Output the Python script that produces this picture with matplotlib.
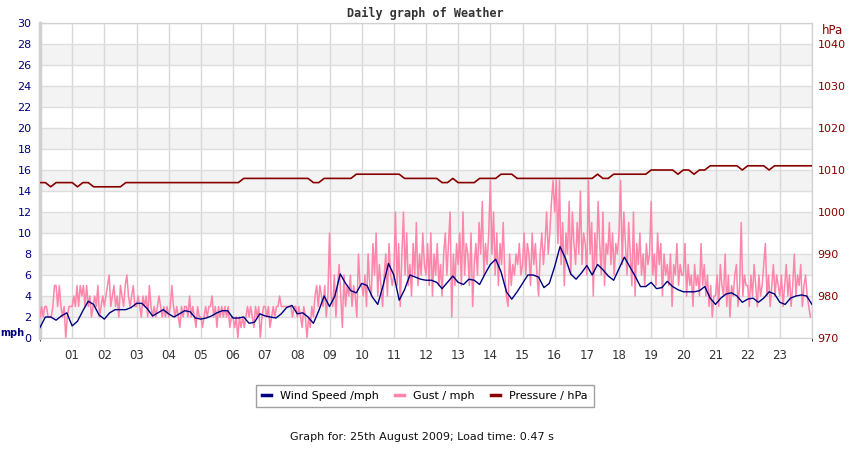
import numpy as np
import matplotlib
matplotlib.use("Agg")
import matplotlib.pyplot as plt
from matplotlib.lines import Line2D

# wind speed, mph, one value every 10 minutes (6 per hour) + end point
wind_speed = [
    1.0, 2.0, 2.0, 1.7, 2.1, 2.4,
    1.15, 1.6, 2.6, 3.5, 3.2, 2.2,
    1.8, 2.4, 2.7, 2.7, 2.7, 2.9,
    3.3, 3.3, 2.8, 2.1, 2.4, 2.7,
    2.3, 2.0, 2.3, 2.6, 2.5, 1.9,
    1.8, 1.9, 2.1, 2.4, 2.6, 2.6,
    1.9, 1.9, 2.0, 1.4, 1.5, 2.3,
    2.1, 2.0, 1.9, 2.3, 2.9, 3.1,
    2.3, 2.4, 2.0, 1.4, 2.6, 4.0,
    3.0, 4.0, 6.1, 5.2, 4.5, 4.3,
    5.2, 5.0, 3.9, 3.2, 5.0, 7.1,
    6.0, 3.6, 4.6, 6.0, 5.8, 5.6,
    5.5, 5.5, 5.3, 4.7, 5.3, 5.9,
    5.3, 5.1, 5.6, 5.5, 5.1, 6.1,
    7.0, 7.5, 6.3, 4.4, 3.7, 4.4,
    5.2, 6.0, 6.0, 5.8, 4.8, 5.2,
    6.8, 8.7, 7.6, 6.1, 5.6, 6.2,
    6.9, 6.0, 7.0, 6.5, 5.9, 5.5,
    6.6, 7.7, 6.8, 5.9, 4.9, 4.9,
    5.3, 4.7, 4.8, 5.4, 4.9, 4.6,
    4.4, 4.4, 4.4, 4.5, 4.9, 3.8,
    3.2, 3.8, 4.2, 4.3, 4.0, 3.4,
    3.7, 3.8, 3.4, 3.8, 4.4, 4.2,
    3.4, 3.2, 3.8, 4.0, 4.1, 4.0,
    3.2,
]

# gust, mph, one value every 3 minutes (20 per hour)
gust = [
    2, 3, 2, 3, 3, 2, 2, 2, 3, 5, 5, 3, 5, 3, 2, 3, 0, 2, 3, 3,
    3, 4, 3, 5, 3, 5, 4, 5, 3, 5, 3, 4, 2, 3, 4, 3, 5, 2, 3, 4,
    3, 4, 5, 6, 3, 4, 5, 3, 4, 2, 5, 4, 3, 5, 6, 4, 3, 4, 5, 3,
    3, 4, 3, 2, 4, 3, 4, 2, 5, 3, 2, 3, 2, 3, 4, 3, 2, 3, 2, 3,
    2, 3, 5, 3, 2, 3, 2, 1, 3, 2, 3, 3, 2, 4, 2, 3, 2, 1, 3, 2,
    2, 1, 2, 3, 2, 3, 3, 4, 2, 3, 1, 3, 2, 3, 2, 3, 2, 3, 1, 2,
    2, 1, 2, 0, 2, 1, 2, 1, 2, 3, 2, 3, 2, 1, 3, 2, 3, 0, 2, 3,
    3, 2, 3, 1, 2, 3, 2, 3, 3, 4, 3, 3, 3, 3, 3, 3, 3, 2, 3, 3,
    2, 3, 2, 1, 3, 2, 0, 2, 1, 3, 2, 4, 5, 3, 5, 4, 3, 5, 2, 4,
    10, 4, 3, 6, 2, 5, 7, 4, 1, 6, 3, 5, 4, 6, 3, 5, 4, 2, 8, 5,
    5, 4, 6, 3, 8, 5, 4, 9, 6, 10, 4, 7, 5, 3, 6, 8, 4, 9, 6, 5,
    6, 12, 5, 9, 3, 8, 12, 6, 10, 5, 7, 4, 9, 6, 11, 5, 8, 6, 10, 7,
    6, 9, 5, 10, 4, 8, 6, 9, 5, 7, 4, 8, 10, 6, 9, 12, 2, 8, 5, 9,
    7, 10, 5, 12, 6, 9, 8, 5, 10, 3, 7, 9, 6, 11, 8, 13, 6, 9, 7, 10,
    15, 8, 12, 6, 10, 5, 9, 7, 11, 6, 4, 3, 8, 5, 7, 6, 8, 7, 9, 6,
    7, 10, 6, 9, 8, 5, 10, 7, 9, 6, 4, 8, 10, 7, 9, 12, 8, 10, 13, 15,
    12, 15, 9, 15, 7, 11, 5, 10, 8, 13, 6, 12, 9, 7, 11, 8, 14, 7, 10, 9,
    6, 15, 8, 11, 4, 10, 7, 13, 9, 6, 12, 5, 9, 8, 11, 7, 10, 6, 9, 8,
    10, 15, 7, 12, 9, 6, 11, 8, 5, 12, 4, 9, 7, 10, 6, 8, 5, 9, 7, 8,
    13, 6, 8, 5, 10, 7, 9, 4, 8, 6, 7, 5, 8, 3, 7, 6, 9, 5, 7, 6,
    6, 9, 4, 7, 5, 6, 3, 7, 5, 6, 4, 9, 5, 7, 4, 6, 3, 5, 2, 4,
    4, 6, 3, 7, 5, 4, 8, 3, 6, 2, 5, 4, 6, 7, 3, 5, 11, 4, 6, 5,
    5, 3, 6, 4, 7, 5, 3, 6, 4, 5, 7, 9, 4, 6, 3, 5, 7, 4, 6, 5,
    4, 6, 3, 5, 7, 4, 6, 3, 5, 8, 4, 6, 5, 7, 3, 5, 6, 4, 3, 2,
]

# pressure, hPa, one value every 10 minutes + end point
pressure = [
    1007, 1007, 1006, 1007, 1007, 1007,
    1007, 1006, 1007, 1007, 1006, 1006,
    1006, 1006, 1006, 1006, 1007, 1007,
    1007, 1007, 1007, 1007, 1007, 1007,
    1007, 1007, 1007, 1007, 1007, 1007,
    1007, 1007, 1007, 1007, 1007, 1007,
    1007, 1007, 1008, 1008, 1008, 1008,
    1008, 1008, 1008, 1008, 1008, 1008,
    1008, 1008, 1008, 1007, 1007, 1008,
    1008, 1008, 1008, 1008, 1008, 1009,
    1009, 1009, 1009, 1009, 1009, 1009,
    1009, 1009, 1008, 1008, 1008, 1008,
    1008, 1008, 1008, 1007, 1007, 1008,
    1007, 1007, 1007, 1007, 1008, 1008,
    1008, 1008, 1009, 1009, 1009, 1008,
    1008, 1008, 1008, 1008, 1008, 1008,
    1008, 1008, 1008, 1008, 1008, 1008,
    1008, 1008, 1009, 1008, 1008, 1009,
    1009, 1009, 1009, 1009, 1009, 1009,
    1010, 1010, 1010, 1010, 1010, 1009,
    1010, 1010, 1009, 1010, 1010, 1011,
    1011, 1011, 1011, 1011, 1011, 1010,
    1011, 1011, 1011, 1011, 1010, 1011,
    1011, 1011, 1011, 1011, 1011, 1011,
    1011,
]

hour_labels = ["%02d" % h for h in range(1, 24)]
legend_labels = ["Wind Speed /mph", "Gust / mph", "Pressure / hPa"]
title = "Daily graph of Weather"
footer = "Graph for: 25th August 2009; Load time: 0.47 s"

navy = "#000080"
pink = "#ff85ab"
darkred = "#880000"

t_wind = np.arange(len(wind_speed)) / 6.0
t_gust = np.arange(len(gust)) / 20.0
t_pres = np.arange(len(pressure)) / 6.0

fig = plt.figure(figsize=(8.5, 4.5), dpi=100)
ax = fig.add_axes([40 / 850, 112 / 450, 772 / 850, 315 / 450])
ax2 = ax.twinx()

# alternating bands
for lo in range(2, 30, 4):
    ax.axhspan(lo, lo + 2, color="#f3f3f3", zorder=0, lw=0)

ax.set_xlim(0, 24)
ax.set_ylim(0, 30)
ax2.set_ylim(970, 1045)

ax.set_xticks(range(1, 24))
ax.set_xticklabels(hour_labels)
ax.set_xticks(range(0, 25), minor=True)
ax.set_yticks(range(0, 31, 2))
ax2.set_yticks(range(970, 1041, 10))

ax.grid(True, which="both", axis="x", color="#d8d8d8", lw=1, zorder=1)
ax.grid(True, axis="y", color="#dedede", lw=1, zorder=1)
ax.set_axisbelow(True)

ax.tick_params(axis="x", length=0, pad=8, labelsize=8.5, labelcolor="#333333")
ax.tick_params(axis="y", length=0, pad=6, labelsize=8, labelcolor=navy)
ax2.tick_params(axis="y", length=0, pad=4, labelsize=8, labelcolor=darkred)

for a in (ax, ax2):
    for side in ("top", "bottom", "right", "left"):
        a.spines[side].set_color("#d0d0d0")
ax.spines["left"].set_linewidth(2.5)
ax2.spines["left"].set_visible(False)
ax2.spines["bottom"].set_visible(False)

ax.plot(t_gust, gust, color=pink, lw=1.1, zorder=3)
ax.plot(t_wind, wind_speed, color=navy, lw=1.0, zorder=4)
ax2.plot(t_pres, pressure, color=darkred, lw=1.2, zorder=5)

fig.text(425 / 850, 1 - 13 / 450, title, ha="center", va="center",
         family="DejaVu Sans Mono", weight="bold", fontsize=8.5, color="#333333")
fig.text(0.5 / 850, 1 - 333 / 450, "mph", ha="left", va="center",
         weight="bold", fontsize=7, color=navy)
fig.text(822 / 850, 1 - 30 / 450, "hPa", ha="left", va="center",
         fontsize=8.5, color=darkred)
fig.text(422 / 850, 1 - 437 / 450, footer, ha="center", va="center",
         fontsize=8, color="#111111")

handles = [Line2D([], [], color=c, lw=2.5) for c in (navy, pink, darkred)]
leg = fig.legend(handles, legend_labels, loc="center", ncol=3,
                 bbox_to_anchor=(425 / 850, 1 - 396 / 450), fontsize=8,
                 frameon=True, fancybox=False, handlelength=0.8,
                 handletextpad=0.8, columnspacing=1.5, borderpad=0.55)
leg.get_frame().set_edgecolor("#888888")
leg.get_frame().set_linewidth(1)

fig.savefig("out.png", dpi=100)
